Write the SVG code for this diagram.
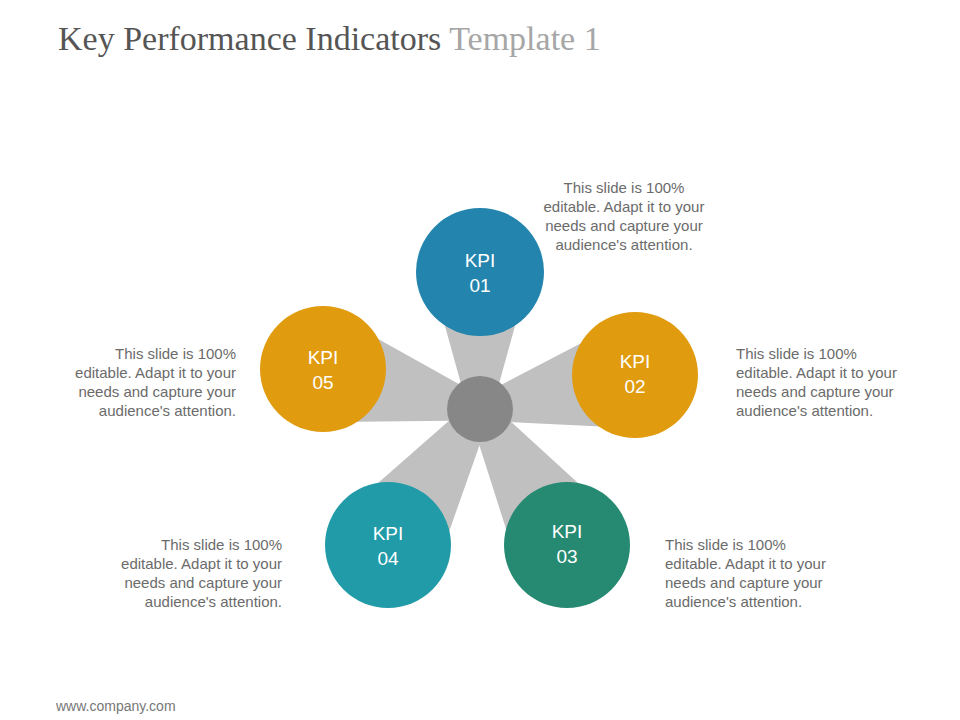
<svg xmlns="http://www.w3.org/2000/svg" width="960" height="720" viewBox="0 0 960 720">
<style>
.t{font-family:"Liberation Sans",Arial,sans-serif;font-size:15px;fill:#6b6b6b}
.k{font-family:"Liberation Sans",Arial,sans-serif;font-size:19px;fill:#fff;text-anchor:middle}
.w{fill:#c0c0c0}
</style>
<rect width="960" height="720" fill="#fff"/>
<text x="58" y="50" font-family="Liberation Serif,serif" font-size="34" fill="#555">Key Performance Indicators <tspan fill="#a6a6a6">Template 1</tspan></text>
<g id="connectors">
<polygon class="w" points="468,409 492,409 530,272 430,272"/>
<polygon class="w" points="482.6,420.7 477.4,397.3 623.2,321.3 646.8,428.7"/>
<polygon class="w" points="469.9,415.5 490.1,402.5 613.4,515.4 520.6,574.6"/>
<polygon class="w" points="489.9,415.7 470.1,402.3 342.5,514.2 433.5,575.8"/>
<polygon class="w" points="483,397.4 477,420.6 309.4,422.3 336.6,315.7"/>
</g>
<g id="hub"><circle cx="480" cy="409" r="33" fill="#878787"/></g>
<g id="kpi01"><circle cx="480" cy="272" r="64" fill="#2385ad"/><text class="k" x="480" y="267">KPI</text><text class="k" x="480" y="292">01</text>
<text class="t" text-anchor="middle"><tspan x="624" y="193">This slide is 100%</tspan><tspan x="624" y="212">editable. Adapt it to your</tspan><tspan x="624" y="231">needs and capture your</tspan><tspan x="624" y="250">audience's attention.</tspan></text></g>
<g id="kpi02"><circle cx="635" cy="375" r="63" fill="#e09b0f"/><text class="k" x="635" y="368">KPI</text><text class="k" x="635" y="393">02</text>
<text class="t"><tspan x="736" y="359">This slide is 100%</tspan><tspan x="736" y="378">editable. Adapt it to your</tspan><tspan x="736" y="397">needs and capture your</tspan><tspan x="736" y="416">audience's attention.</tspan></text></g>
<g id="kpi03"><circle cx="567" cy="545" r="63" fill="#268a72"/><text class="k" x="567" y="538">KPI</text><text class="k" x="567" y="563">03</text>
<text class="t"><tspan x="665" y="550">This slide is 100%</tspan><tspan x="665" y="569">editable. Adapt it to your</tspan><tspan x="665" y="588">needs and capture your</tspan><tspan x="665" y="607">audience's attention.</tspan></text></g>
<g id="kpi04"><circle cx="388" cy="545" r="63" fill="#229ba8"/><text class="k" x="388" y="540">KPI</text><text class="k" x="388" y="565">04</text>
<text class="t" text-anchor="end"><tspan x="282" y="550">This slide is 100%</tspan><tspan x="282" y="569">editable. Adapt it to your</tspan><tspan x="282" y="588">needs and capture your</tspan><tspan x="282" y="607">audience's attention.</tspan></text></g>
<g id="kpi05"><circle cx="323" cy="369" r="63" fill="#e09b0f"/><text class="k" x="323" y="364">KPI</text><text class="k" x="323" y="389">05</text>
<text class="t" text-anchor="end"><tspan x="236" y="359">This slide is 100%</tspan><tspan x="236" y="378">editable. Adapt it to your</tspan><tspan x="236" y="397">needs and capture your</tspan><tspan x="236" y="416">audience's attention.</tspan></text></g>
<text x="56" y="711" font-family="Liberation Sans,Arial,sans-serif" font-size="14" fill="#777">www.company.com</text>
</svg>
